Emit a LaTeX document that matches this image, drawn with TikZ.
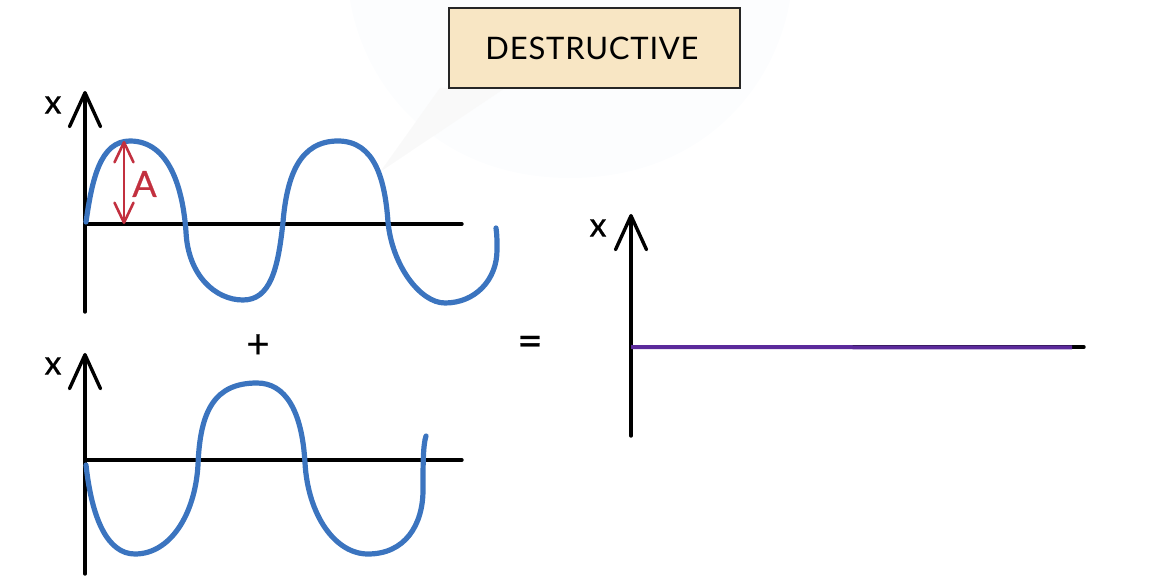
\documentclass[tikz,border=0pt]{standalone}
\usepackage{fontspec}
\setmainfont{Lato}
\newfontfamily\handfont[FakeBold=0.6]{Lato}
\usetikzlibrary{arrows.meta}
\definecolor{wave}{HTML}{3B74BF}
\definecolor{ampred}{HTML}{C2303F}
\definecolor{sumpurple}{HTML}{5B2A9B}
\definecolor{boxfill}{HTML}{F8E6C4}
\definecolor{tint}{HTML}{FCFDFE}
\definecolor{wedge}{HTML}{F9F9F9}
\tikzset{
  x=0.5pt,y=-0.5pt,
  axisline/.style={black,line width=1.7pt,line cap=round,-{Straight Barb[length=17pt,width=15.5pt,round]}},
  baseaxis/.style={black,line width=1.7pt,line cap=round},
  wavecurve/.style={wave,line width=2.6pt,line cap=round,line join=round},
  ampline/.style={ampred,line width=1.3pt,line cap=round,{Straight Barb[length=10pt,width=9.5pt,round]}-{Straight Barb[length=10pt,width=9.5pt,round]}},
  axislabel/.style={font=\handfont\fontsize{17}{17}\selectfont,inner sep=0pt,black},
  titlebox/.style={draw=black!85,line width=0.8pt,fill=boxfill,minimum width=145.5pt,minimum height=40pt,inner sep=0pt,font=\fontsize{15.5}{16}\selectfont\addfontfeature{LetterSpace=2.5}}
}
\begin{document}
\begin{tikzpicture}
\useasboundingbox (0,0) rectangle (1156,582);
% faint watermark
\fill[tint] (350,0) .. controls (365,90) and (440,178) .. (570,178) .. controls (700,178) and (775,90) .. (790,0) -- cycle;
\fill[wedge] (380,172) -- (440,88) -- (505,88) -- cycle;
% top-left graph
\coordinate (a1b) at (85,312); \coordinate (a1t) at (85,91);
\coordinate (h1l) at (85,224); \coordinate (h1r) at (462,224);
\draw[baseaxis] (h1l) -- (h1r);
\draw[axisline] (a1b) -- (a1t);
\node[axislabel] (x1) at (53,105) {x};
\draw[wavecurve] (86,222) .. controls (92,180) and (100,141) .. (130,141)
  .. controls (170,141) and (183,190) .. (186,232)
  .. controls (188,275) and (215,300) .. (243,300)
  .. controls (270,300) and (278,270) .. (283,222)
  .. controls (287,175) and (300,141) .. (338,141)
  .. controls (375,141) and (385,180) .. (388,222)
  .. controls (392,265) and (420,303) .. (445,303)
  .. controls (475,303) and (497,280) .. (497,250)
  .. controls (497,240) and (497,235) .. (496,228);
\coordinate (at) at (124,141); \coordinate (ab) at (124,224);
\draw[ampline] (ab) -- (at);
\node[ampred,inner sep=0pt,font=\handfont\fontsize{18}{18}\selectfont] (A) at (144.5,184) {A};
% bottom-left graph
\coordinate (a2b) at (85,574); \coordinate (a2t) at (85,353);
\coordinate (h2l) at (85,460); \coordinate (h2r) at (462,460);
\draw[baseaxis] (h2l) -- (h2r);
\draw[axisline] (a2b) -- (a2t);
\node[axislabel] (x2) at (53,366) {x};
\draw[wavecurve] (86,465) .. controls (92,520) and (108,554) .. (135,554)
  .. controls (170,554) and (195,515) .. (198,465)
  .. controls (200,410) and (215,383) .. (257,383)
  .. controls (285,383) and (302,410) .. (305,463)
  .. controls (308,515) and (335,554) .. (368,554)
  .. controls (405,554) and (423,525) .. (423,490)
  .. controls (423,465) and (423,445) .. (426,436);
\node[axislabel,font=\handfont\fontsize{20}{20}\selectfont] (plus) at (258,346) {+};
\node[axislabel,font=\handfont\fontsize{22}{22}\selectfont] (eq) at (530,346) {=};
% right graph
\coordinate (a3b) at (631,436); \coordinate (a3t) at (631,214);
\coordinate (h3l) at (631,347); \coordinate (h3r) at (1084,347); \coordinate (p3r) at (1072,347.5);
\draw[baseaxis] (h3l) -- (h3r);
\draw[axisline] (a3b) -- (a3t);
\draw[sumpurple,line width=2pt] (h3l) -- (p3r);
\node[axislabel] (x3) at (598,228) {x};
% title
\node[titlebox] (title) at (594.5,48) {DESTRUCTIVE\hspace*{2.5pt}};
\end{tikzpicture}
\end{document}
